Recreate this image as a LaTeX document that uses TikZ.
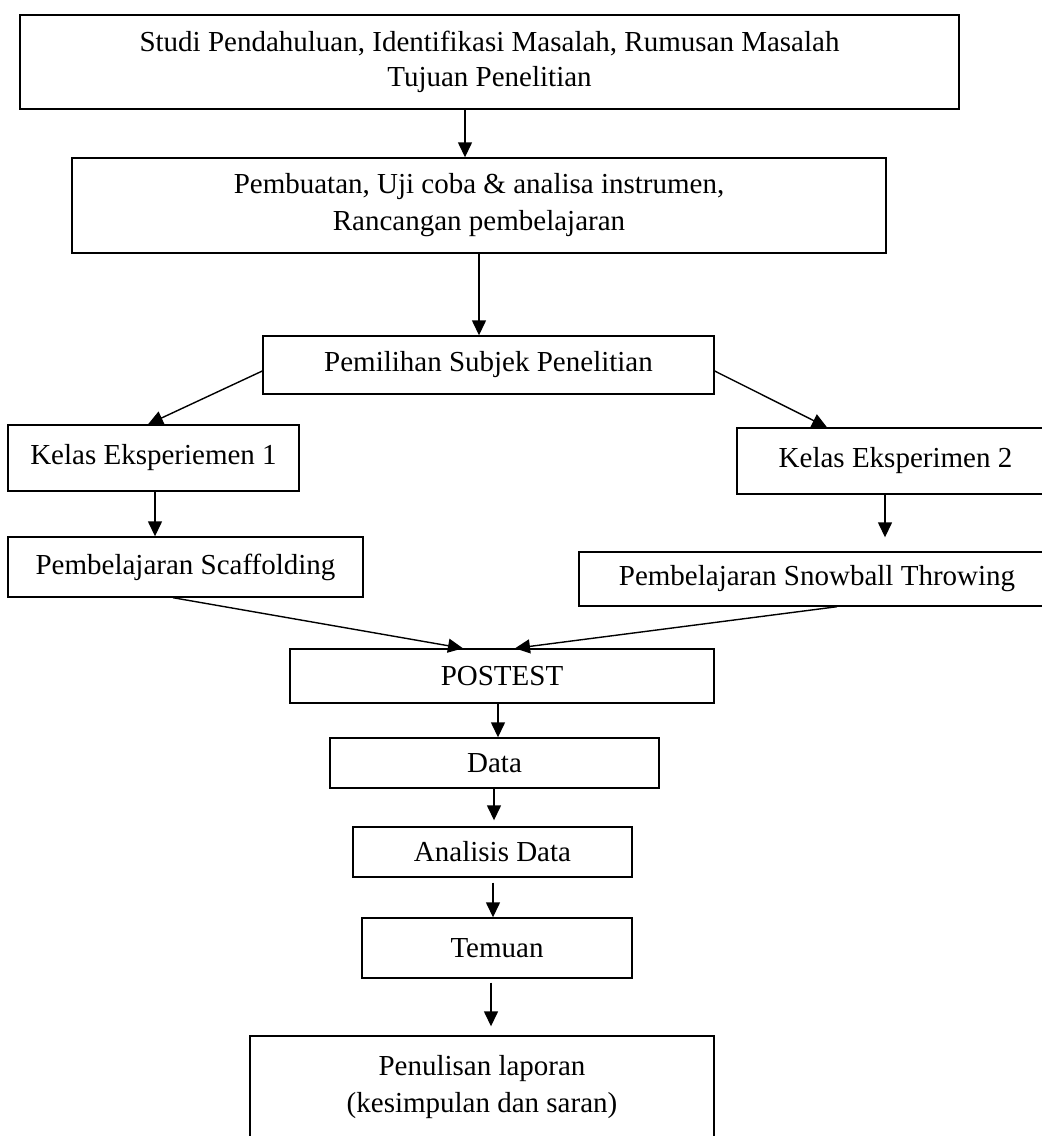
\documentclass[tikz,border=0pt]{standalone}
\usepackage{fontspec}
\setmainfont{Liberation Serif}
\usetikzlibrary{arrows.meta}
\begin{document}
\begin{tikzpicture}[x=1pt,y=-1pt,
  box/.style={draw=black, line width=1.4pt, inner sep=0pt, align=center,
    font={\fontsize{29}{35}\selectfont}},
  arr/.style={draw=black, line width=1.4pt, -{Triangle[length=15pt,width=14pt]}}]
\useasboundingbox (0,0) rectangle (1042,1136);
\clip (0,0) rectangle (1042,1136);
\fill[white] (0,0) rectangle (1042,1136);
\node[box, minimum width=939pt, minimum height=94pt] (b1) at (489.5,62)
  {Studi Pendahuluan, Identifikasi Masalah, Rumusan Masalah\\Tujuan Penelitian};
\node[box, minimum width=814pt, minimum height=95pt, font={\fontsize{29}{37}\selectfont}] (b2) at (479,205.5)
  {Pembuatan, Uji coba \& analisa instrumen,\\Rancangan pembelajaran};
\node[box, minimum width=451pt, minimum height=58pt] (b3) at (488.5,365) {Pemilihan Subjek Penelitian};
\node[box, minimum width=291pt, minimum height=66pt] (b4) at (153.5,458) {Kelas Eksperiemen 1};
\node[box, minimum width=317pt, minimum height=66pt] (b5) at (895.5,461) {Kelas Eksperimen 2};
\node[box, minimum width=355pt, minimum height=60pt] (b6) at (185.5,567) {Pembelajaran Scaffolding};
\node[box, minimum width=476pt, minimum height=54pt] (b7) at (817,579) {Pembelajaran Snowball Throwing};
\node[box, minimum width=424pt, minimum height=54pt] (b8) at (502,676) {POSTEST};
\node[box, minimum width=329pt, minimum height=50pt] (b9) at (494.5,763) {Data};
\node[box, minimum width=279pt, minimum height=50pt] (b10) at (492.5,852) {Analisis Data};
\node[box, minimum width=270pt, minimum height=60pt] (b11) at (497,948) {Temuan};
\node[box, minimum width=464pt, minimum height=103pt, font={\fontsize{29}{37}\selectfont}] (b12) at (482,1087.5)
  {Penulisan laporan\\(kesimpulan dan saran)};
\draw[arr] ([xshift=-24.5pt]b1.south) -- ([xshift=-14pt]b2.north);
\draw[arr] (b2.south) -- ([xshift=-9.5pt]b3.north);
\draw[arr] ([yshift=-6pt]b3.west) -- ([xshift=-5.5pt]b4.north);
\draw[arr] ([yshift=-6pt]b3.east) -- ([xshift=-68.5pt]b5.north);
\draw[arr] ([xshift=1.5pt]b4.south) -- ([xshift=-30.5pt]b6.north);
\draw[arr] ([xshift=-10.5pt]b5.south) -- ([xshift=68pt,yshift=14pt]b7.north);
\draw[arr] ([xshift=-12.5pt]b6.south) -- ([xshift=-39pt]b8.north);
\draw[arr] ([xshift=20pt]b7.south) -- ([xshift=13pt]b8.north);
\draw[arr] ([xshift=-4pt]b8.south) -- ([xshift=3.5pt]b9.north);
\draw[arr] ([xshift=-0.5pt]b9.south) -- ([xshift=1.5pt,yshift=6pt]b10.north);
\draw[arr] ([xshift=0.5pt,yshift=-5pt]b10.south) -- ([xshift=-4pt]b11.north);
\draw[arr] ([xshift=-6pt,yshift=-4pt]b11.south) -- ([xshift=9pt,yshift=9pt]b12.north);
\end{tikzpicture}
\end{document}
